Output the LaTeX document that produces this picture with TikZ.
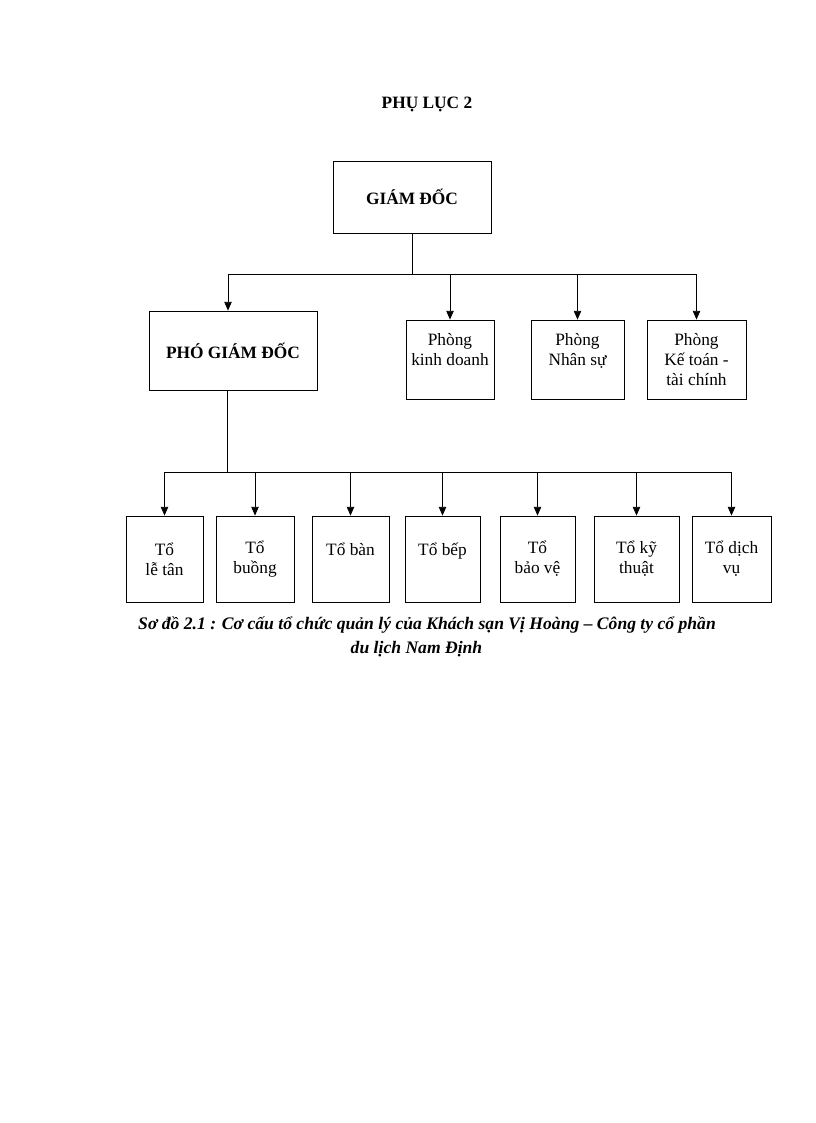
\documentclass[tikz,border=0pt]{standalone}
\usepackage{fontspec}
\setmainfont{Liberation Serif}
\usetikzlibrary{arrows.meta}
\usetikzlibrary{positioning}

\tikzset{
  box/.style={draw, line width=0.6pt, inner sep=0pt, align=center, font=\fontsize{13}{15}\selectfont},
  head/.style={box, font=\bfseries\fontsize{13}{15}\selectfont},
  dept/.style={box, minimum height=59.25pt},
  team/.style={box, minimum height=64.5pt},
  link/.style={line width=0.6pt},
  arr/.style={line width=0.6pt, -{Triangle[length=6.5pt,width=5.5pt]}}
}

\begin{document}
\begin{tikzpicture}[x=0.75pt, y=-0.75pt]
  \useasboundingbox (0,0) rectangle (816,1123);
  \node [font=\bfseries\fontsize{13}{15}\selectfont] (title) at (427,104) {PHỤ LỤC 2};

  % ban giam doc
  \node [head, minimum width=118.5pt, minimum height=54pt] (gd) at (412,197) {GIÁM ĐỐC};
  \node [head, minimum width=126pt, minimum height=59.25pt] (pgd) at (233,350.5) {PHÓ GIÁM ĐỐC};

  % cac phong
  \node [dept, minimum width=66pt] (pkd) at (450,359.5) {Phòng\\kinh doanh\\\mbox{}};
  \node [dept, minimum width=69.75pt] (pns) at (577.5,359.5) {Phòng\\Nhân sự\\\mbox{}};
  \node [dept, minimum width=74.25pt] (pkt) at (696.5,359.5) {Phòng\\Kế toán -\\tài chính};

  % cac to
  \node [team, minimum width=57.75pt] (letan) at (164.5,559) {Tổ\\lễ tân};
  \node [team, minimum width=58.5pt] (buong) at (255,559) {Tổ\\buồng};
  \node [team, minimum width=57.75pt] (ban) at (350.5,559) {Tổ bàn\\\mbox{}};
  \node [team, minimum width=56.25pt] (bep) at (442.5,559) {Tổ bếp\\\mbox{}};
  \node [team, minimum width=56.25pt] (baove) at (537.5,559) {Tổ\\bảo vệ};
  \node [team, minimum width=63.75pt] (kythuat) at (636.5,559) {Tổ kỹ\\thuật};
  \node [team, minimum width=59.25pt] (dichvu) at (731.5,559) {Tổ dịch\\vụ};

  % duong noi
  \coordinate (pgdin) at ([xshift=-3.75pt]pgd.north);
  \coordinate (pgdout) at ([xshift=-4.5pt]pgd.south);
  \draw [link] (gd.south) -- ++(0,41) coordinate (j1);
  \draw [link] (j1 -| pgdin) -- (j1 -| pkt.north);
  \draw [arr] (j1 -| pgdin) -- (pgdin);
  \foreach \n in {pkd,pns,pkt}
    \draw [arr] (j1 -| \n.north) -- (\n.north);
  \draw [link] (pgdout) -- ++(0,82) coordinate (j2);
  \draw [link] (j2 -| letan.north) -- (j2 -| dichvu.north);
  \foreach \n in {letan,buong,ban,bep,baove,kythuat,dichvu}
    \draw [arr] (j2 -| \n.north) -- (\n.north);

  % chu thich
  \node [font=\bfseries\itshape\fontsize{13.2}{15}\selectfont] (cap1) at (427,625) {Sơ đồ 2.1 : Cơ cấu tổ chức quản lý của Khách sạn Vị Hoàng – Công ty cổ phần};
  \node [font=\bfseries\itshape\fontsize{13.2}{15}\selectfont] (cap2) at (416.5,649) {du lịch Nam Định};
\end{tikzpicture}
\end{document}
